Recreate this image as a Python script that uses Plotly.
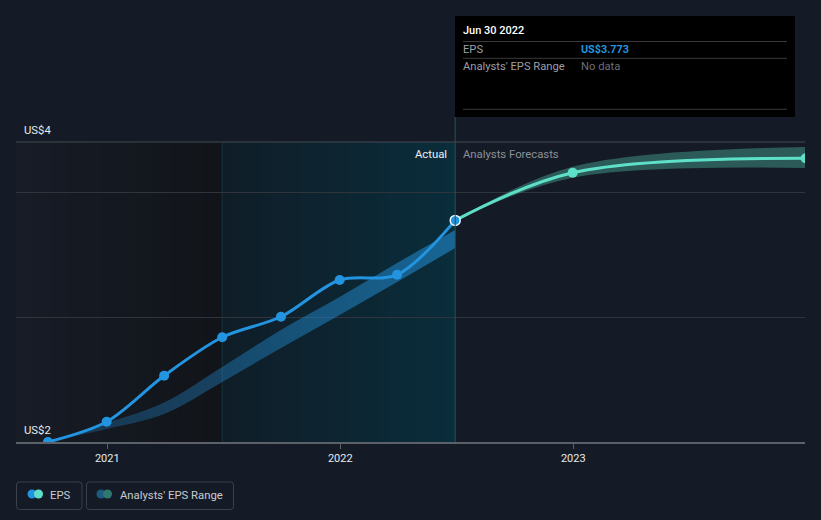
import plotly.graph_objects as go
import pandas as pd

# ---------------- data ----------------
actual_dates = ['2020-09-30', '2020-12-31', '2021-03-31', '2021-06-30',
                '2021-09-30', '2021-12-31', '2022-03-31', '2022-06-30']
actual_eps = [2.00, 2.162, 2.530, 2.838, 3.002, 3.296, 3.338, 3.773]

forecast_dates = ['2022-06-30', '2022-12-31', '2023-12-31']
forecast_eps = [3.773, 4.154, 4.270]

past_range_low = [2.00, 2.104, 2.224, 2.480, 2.752, 3.016, 3.280, 3.552]
past_range_high = [2.00, 2.152, 2.316, 2.600, 2.896, 3.160, 3.432, 3.696]

fc_range_low = [3.773, 4.114, 4.192]
fc_range_high = [3.773, 4.202, 4.360]

year_ticks = ['2021-01-01', '2022-01-01', '2023-01-01']
year_labels = ['2021', '2022', '2023']

# ---------------- geometry helpers ----------------
W, H = 821, 520
L, R, T, B = 16, 805, 142, 442
Y0, Y1 = 2.0, 4.4


def px(x):
    return (x - L) / (R - L)


def py(y):
    return (B - y) / (B - T)


anchor = pd.Timestamp('2021-01-01')
px_per_day = 233.0 / 365.0
x_start = anchor - pd.Timedelta(days=(107.3 - L) / px_per_day)
x_end = anchor + pd.Timedelta(days=(R - 107.3) / px_per_day)

BG = '#151b26'
BLUE = '#2394df'
TEAL = '#5ee0c8'
FONT = 'Roboto, "Open Sans", sans-serif'

fig = go.Figure()

# past analysts range band
fig.add_trace(go.Scatter(x=actual_dates, y=past_range_low, mode='lines',
                         line=dict(width=0, shape='spline', color=BLUE),
                         hoverinfo='skip', showlegend=False))
fig.add_trace(go.Scatter(x=actual_dates, y=past_range_high, mode='lines',
                         line=dict(width=0, shape='spline', color=BLUE),
                         fill='tonexty',
                         fillgradient=dict(type='horizontal',
                                           colorscale=[[0, 'rgba(35,148,223,0.22)'],
                                                       [1, 'rgba(35,148,223,0.55)']]),
                         hoverinfo='skip', showlegend=False))

# forecast range band
fig.add_trace(go.Scatter(x=forecast_dates, y=fc_range_low, mode='lines',
                         line=dict(width=0, shape='spline', color=TEAL),
                         hoverinfo='skip', showlegend=False))
fig.add_trace(go.Scatter(x=forecast_dates, y=fc_range_high, mode='lines',
                         line=dict(width=0, shape='spline', color=TEAL),
                         fill='tonexty', fillcolor='rgba(94,224,200,0.32)',
                         hoverinfo='skip', showlegend=False))

# forecast EPS
fig.add_trace(go.Scatter(x=forecast_dates, y=forecast_eps, mode='lines',
                         line=dict(width=3, shape='spline', color=TEAL),
                         hoverinfo='skip', showlegend=False))
fig.add_trace(go.Scatter(x=forecast_dates[1:], y=forecast_eps[1:], mode='markers',
                         marker=dict(size=10, color=TEAL, opacity=1),
                         hoverinfo='skip', showlegend=False))

# actual EPS
fig.add_trace(go.Scatter(x=actual_dates, y=actual_eps, mode='lines',
                         line=dict(width=3, shape='spline', smoothing=0.9, color=BLUE),
                         hoverinfo='skip', showlegend=False))
fig.add_trace(go.Scatter(x=actual_dates[:-1], y=actual_eps[:-1], mode='markers',
                         marker=dict(size=10, color=BLUE, opacity=1),
                         hoverinfo='skip', showlegend=False))
fig.add_trace(go.Scatter(x=actual_dates[-1:], y=actual_eps[-1:], mode='markers',
                         marker=dict(size=10, color=BLUE, opacity=1,
                                     line=dict(width=1.5, color='#e8f4ff')),
                         hoverinfo='skip', showlegend=False))

shapes = []


def hex_lerp(c1, c2, t):
    a = [int(c1[i:i + 2], 16) for i in (1, 3, 5)]
    b = [int(c2[i:i + 2], 16) for i in (1, 3, 5)]
    return '#%02x%02x%02x' % tuple(round(a[k] + (b[k] - a[k]) * t) for k in range(3))


def gradient_strips(d0, d1, c0, c1, nstrips=24):
    d0 = pd.Timestamp(d0)
    d1 = pd.Timestamp(d1)
    step = (d1 - d0) / nstrips
    for i in range(nstrips):
        a = d0 + step * i
        b = d0 + step * (i + 1) + pd.Timedelta(hours=30)
        shapes.append(dict(type='rect', xref='x', yref='paper',
                           x0=a, x1=b if i < nstrips - 1 else d1, y0=0, y1=1,
                           fillcolor=hex_lerp(c0, c1, (i + 0.5) / nstrips),
                           line=dict(width=0), layer='below'))


gradient_strips(x_start, '2021-06-30', '#171c26', '#111419')
gradient_strips('2021-06-30', '2022-06-30', '#0f1d27', '#0a2d3b')

# region edges
shapes.append(dict(type='line', xref='x', yref='paper', x0='2021-06-30', x1='2021-06-30',
                   y0=0, y1=1, line=dict(color='#1a3540', width=1), layer='below'))
shapes.append(dict(type='line', xref='x', yref='paper', x0='2022-06-30', x1='2022-06-30',
                   y0=0, y1=py(117), line=dict(color='#24505e', width=1), layer='above'))

# top border line
shapes.append(dict(type='line', xref='paper', yref='paper', x0=0, x1=1, y0=1, y1=1,
                   line=dict(color='#454a52', width=1)))

# tooltip box
shapes.append(dict(type='rect', xref='paper', yref='paper',
                   x0=px(455), x1=px(795), y0=py(117), y1=py(16),
                   fillcolor='#000000', line=dict(width=0), layer='above'))
for yy in (41.5, 58.3, 109.3):
    shapes.append(dict(type='line', xref='paper', yref='paper',
                       x0=px(463), x1=px(787), y0=py(yy), y1=py(yy),
                       line=dict(color='#3a3a3a', width=1), layer='above'))


# legend boxes
def rrect(x0, y0, x1, y1, r=3):
    rx = r / (R - L)
    ry = r / (B - T)
    X0, X1 = px(x0), px(x1)
    Ya, Yb = py(y1), py(y0)  # bottom, top in paper
    p = (f'M {X0 + rx},{Yb} L {X1 - rx},{Yb} Q {X1},{Yb} {X1},{Yb - ry} '
         f'L {X1},{Ya + ry} Q {X1},{Ya} {X1 - rx},{Ya} '
         f'L {X0 + rx},{Ya} Q {X0},{Ya} {X0},{Ya + ry} '
         f'L {X0},{Yb - ry} Q {X0},{Yb} {X0 + rx},{Yb} Z')
    return dict(type='path', xref='paper', yref='paper', path=p,
                line=dict(color='#3b404a', width=1), fillcolor='rgba(0,0,0,0)')


shapes.append(rrect(16.5, 482, 82, 509.5))
shapes.append(rrect(86.5, 482, 233.5, 509.5))


def circle(cx, cy, r, color):
    return dict(type='circle', xref='paper', yref='paper',
                x0=px(cx - r), x1=px(cx + r), y0=py(cy + r), y1=py(cy - r),
                fillcolor=color, line=dict(width=0))


shapes.append(circle(32, 494, 4.5, BLUE))
shapes.append(circle(38.5, 494, 4.5, TEAL))
shapes.append(circle(101, 494, 4.5, '#1d5a80'))
shapes.append(circle(107.5, 494, 4.5, '#2f7870'))

annotations = []


def text(x, y, s, color, size=11.2, anchor='left', weight=None):
    f = dict(family=FONT, size=size, color=color)
    if weight:
        f['weight'] = weight
    dx = -2 if anchor == 'left' else 2
    annotations.append(dict(xref='paper', yref='paper', x=px(x + dx), y=py(y), text=s,
                            showarrow=False, xanchor=anchor, yanchor='middle',
                            font=f))


text(24, 130.5, 'US$4', '#e6e8eb', 11.3)
text(24, 430, 'US$2', '#e6e8eb', 11.3)
text(447, 154, 'Actual', '#eef0f2', 11.3, anchor='right')
text(463, 154, 'Analysts Forecasts', '#8b9098', 11.3)

text(463, 31, 'Jun 30 2022', '#ffffff', 11, weight=500)
text(463, 49.5, 'EPS', '#9a9fa7', 11.2)
text(581, 49.5, 'US$3.773', BLUE, 10.8, weight='bold')
text(463, 66.5, "Analysts' EPS Range", '#9a9fa7', 11.2)
text(581, 66.5, 'No data', '#6a6f77', 11.2)

text(50, 495.5, 'EPS', '#c8ccd2', 11.3)
text(120, 495.5, "Analysts' EPS Range", '#c8ccd2', 11.3)

fig.update_layout(
    width=W, height=H,
    margin=dict(l=L, r=W - R, t=T, b=H - B, pad=0),
    paper_bgcolor=BG, plot_bgcolor=BG,
    showlegend=False,
    shapes=shapes,
    annotations=annotations,
    font=dict(family=FONT, color='#e6e8eb'),
    xaxis=dict(type='date', range=[x_start, x_end], showgrid=False, zeroline=False,
               tickvals=year_ticks, ticktext=year_labels, ticks='outside', ticklen=5,
               tickcolor='#5b6069', tickwidth=1,
               tickfont=dict(family=FONT, size=11, color='#e8eaed'),
               showline=True, linecolor='#5b6069', linewidth=1.5),
    yaxis=dict(range=[Y0, Y1], tickvals=[3, 4], showticklabels=False,
               showgrid=True, gridcolor='#30353d', gridwidth=1, zeroline=False,
               showline=False, fixedrange=True),
)

fig.write_html('out.html')
